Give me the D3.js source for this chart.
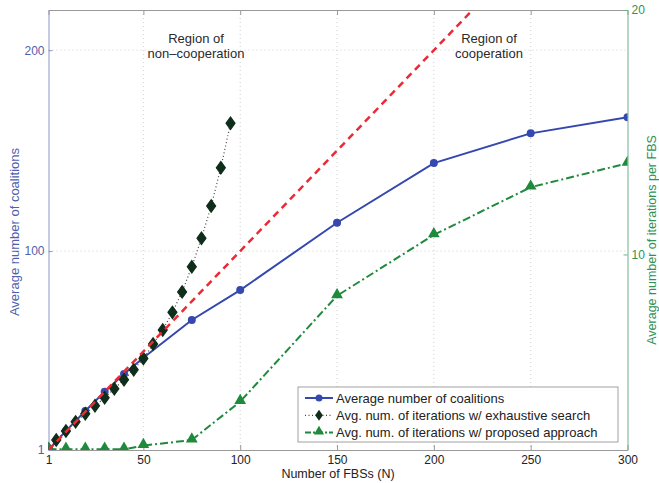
<!DOCTYPE html>
<html>
<head>
<meta charset="utf-8">
<script src="https://cdn.jsdelivr.net/npm/d3@7"></script>
<style>
  body { margin: 0; background: #fff; }
  text { font-family: "Liberation Sans", Arial, Helvetica, sans-serif; }
</style>
</head>
<body>
<svg id="chart" width="659" height="483"></svg>
<script>
// x values (number of FBSs)
var coalN = [1, 10, 20, 30, 40, 50, 75, 100, 150, 200, 250, 300];
// average number of coalitions (left axis)
var coalVal = [1, 10.5, 20.4, 30, 38.8, 46.9, 65.7, 80.6, 114.1, 143.8, 158.6, 166.6];
// exhaustive search iterations (left axis scale)
var exhN = [1, 5, 10, 15, 20, 25, 30, 35, 40, 45, 50, 55, 60, 65, 70, 75, 80, 85, 90, 95];
var exhVal = [1.5, 6, 10.5, 15, 19, 23, 27, 31.5, 36, 41, 46.5, 53.8, 60.7, 69.5, 79.7, 92.2, 106.4, 122.4, 141.5, 163.6];
// proposed approach iterations per FBS (right axis)
var propN = [1, 10, 20, 30, 40, 50, 75, 100, 150, 200, 250, 300];
var propVal = [2.03, 2.03, 2.03, 2.03, 2.03, 2.18, 2.41, 3.98, 8.31, 10.8, 12.75, 13.73];
// non-cooperation reference line (N coalitions for N FBSs)
var refN = [1, 300];
var refVal = [1, 300];

var xTicks = [1, 50, 100, 150, 200, 250, 300];
var yLeftTicks = [1, 100, 200];
var yRightTicks = [10, 20];

var legendLabels = [
  "Average number of coalitions",
  "Avg. num. of iterations w/ exhaustive search",
  "Avg. num. of iterations w/ proposed approach"
];

var svg = d3.select("#chart");
var plot = {left: 48.5, right: 627.5, top: 10, bottom: 450};

var blue = "#3548b0", dark = "#0f2d1b", green = "#1f8a3c", red = "#ec2a35";
var leftCol = "#4f5fae", rightCol = "#2e9357";

var x = d3.scaleLinear().domain([1, 300]).range([plot.left, plot.right]);
var yL = d3.scaleLinear().domain([1, 220]).range([plot.bottom, plot.top]);
var yR = d3.scaleLinear().domain([2, 20]).range([plot.bottom, plot.top]);

svg.append("defs").append("clipPath").attr("id", "clip")
  .append("rect")
  .attr("x", plot.left).attr("y", plot.top)
  .attr("width", plot.right - plot.left).attr("height", plot.bottom - plot.top);

//grid
var grid = svg.append("g").attr("stroke", "#c4c4c4").attr("stroke-width", 0.8).attr("stroke-dasharray", "1,3");
grid.selectAll("line.vx")
  .data(xTicks.slice(1, -1))
  .enter().append("line")
  .attr("x1", function(d) { return x(d); }).attr("x2", function(d) { return x(d); })
  .attr("y1", plot.top).attr("y2", plot.bottom);
grid.selectAll("line.hy")
  .data(yLeftTicks.slice(1))
  .enter().append("line")
  .attr("x1", plot.left).attr("x2", plot.right)
  .attr("y1", function(d) { return yL(d); }).attr("y2", function(d) { return yL(d); });

//axes
var xAxis = svg.append("g")
  .attr("transform", "translate(0," + plot.bottom + ")")
  .call(d3.axisBottom(x).tickValues(xTicks).tickSizeInner(-5).tickSizeOuter(0).tickPadding(5));
var xTop = svg.append("g")
  .attr("transform", "translate(0," + plot.top + ")")
  .call(d3.axisTop(x).tickValues(xTicks).tickSizeInner(-5).tickSizeOuter(0).tickFormat(""));
[xAxis, xTop].forEach(function(g) {
  g.select(".domain").attr("stroke", "#999");
  g.selectAll(".tick line").attr("stroke", "#999");
  g.selectAll("text").attr("fill", "#222").attr("font-size", "12px");
});

var yLeftAxis = svg.append("g")
  .attr("transform", "translate(" + plot.left + ",0)")
  .call(d3.axisLeft(yL).tickValues(yLeftTicks).tickSizeInner(-4).tickSizeOuter(0).tickPadding(4));
yLeftAxis.select(".domain").attr("stroke", "#8a96c8");
yLeftAxis.selectAll(".tick line").attr("stroke", "#8a96c8");
yLeftAxis.selectAll("text").attr("fill", leftCol).attr("font-size", "12px");

var yRightAxis = svg.append("g")
  .attr("transform", "translate(" + plot.right + ",0)")
  .call(d3.axisRight(yR).tickValues(yRightTicks).tickSizeInner(-4).tickSizeOuter(0).tickPadding(4));
yRightAxis.select(".domain").attr("stroke", "#6fb08a");
yRightAxis.selectAll(".tick line").attr("stroke", "#6fb08a");
yRightAxis.selectAll("text").attr("fill", rightCol).attr("font-size", "12px");

//axis titles
svg.append("text")
  .attr("x", (plot.left + plot.right) / 2).attr("y", 477.5)
  .attr("text-anchor", "middle").attr("font-size", "12.5px").attr("fill", "#222")
  .text("Number of FBSs (N)");
svg.append("text")
  .attr("transform", "translate(19,232) rotate(-90)")
  .attr("text-anchor", "middle").attr("font-size", "13px").attr("fill", leftCol)
  .text("Average number of coalitions");
svg.append("text")
  .attr("transform", "translate(656,240) rotate(-90)")
  .attr("text-anchor", "middle").attr("font-size", "12.5px").attr("fill", rightCol)
  .text("Average number of iterations per FBS");

//region annotations
var notes = svg.append("g").attr("font-size", "13px").attr("fill", "#2a2a2a").attr("text-anchor", "middle");
notes.append("text").attr("x", 196).attr("y", 43).text("Region of");
notes.append("text").attr("x", 196).attr("y", 58).text("non\u2013cooperation");
notes.append("text").attr("x", 489).attr("y", 43).text("Region of");
notes.append("text").attr("x", 489).attr("y", 58).text("cooperation");

//series
var area = svg.append("g").attr("clip-path", "url(#clip)");

var lineL = d3.line().x(function(d) { return x(d[0]); }).y(function(d) { return yL(d[1]); });
var lineR = d3.line().x(function(d) { return x(d[0]); }).y(function(d) { return yR(d[1]); });

var coalData = d3.zip(coalN, coalVal);
var exhData = d3.zip(exhN, exhVal);
var propData = d3.zip(propN, propVal);
var refData = d3.zip(refN, refVal);

area.append("path").datum(coalData)
  .attr("d", lineL).attr("fill", "none").attr("stroke", blue).attr("stroke-width", 2);
area.selectAll("circle.coal").data(coalData).enter().append("circle")
  .attr("cx", function(d) { return x(d[0]); }).attr("cy", function(d) { return yL(d[1]); })
  .attr("r", 4).attr("fill", blue);

area.append("path").datum(exhData)
  .attr("d", lineL).attr("fill", "none").attr("stroke", "#444").attr("stroke-width", 1.2)
  .attr("stroke-dasharray", "1,2.5");
area.selectAll("path.exh").data(exhData).enter().append("path")
  .attr("transform", function(d) { return "translate(" + x(d[0]) + "," + yL(d[1]) + ") scale(1.25,1)"; })
  .attr("d", d3.symbol().type(d3.symbolDiamond).size(45))
  .attr("fill", dark).attr("stroke", dark).attr("stroke-width", 1);

area.append("path").datum(propData)
  .attr("d", lineR).attr("fill", "none").attr("stroke", green).attr("stroke-width", 2)
  .attr("stroke-dasharray", "8,3,2,3");
area.selectAll("path.prop").data(propData).enter().append("path")
  .attr("transform", function(d) { return "translate(" + x(d[0]) + "," + (yR(d[1]) - 1) + ")"; })
  .attr("d", d3.symbol().type(d3.symbolTriangle).size(60))
  .attr("fill", green);

area.append("path").datum(refData)
  .attr("d", lineL).attr("fill", "none").attr("stroke", red).attr("stroke-width", 2.5)
  .attr("stroke-dasharray", "7,5");

//legend
var leg = svg.append("g").attr("transform", "translate(298,387)");
leg.append("rect").attr("width", 320).attr("height", 55)
  .attr("fill", "#fff").attr("stroke", "#8a8a8a").attr("stroke-width", 0.8);
var rows = leg.selectAll("g.row").data(legendLabels).enter().append("g")
  .attr("transform", function(d, i) { return "translate(0," + (11 + i * 17.3) + ")"; });
rows.append("text").attr("x", 38).attr("y", 4.5).attr("font-size", "13px").attr("fill", "#222")
  .text(function(d) { return d; });
var row0 = d3.select(rows.nodes()[0]), row1 = d3.select(rows.nodes()[1]), row2 = d3.select(rows.nodes()[2]);
row0.append("line").attr("x1", 7).attr("x2", 35).attr("stroke", blue).attr("stroke-width", 2);
row0.append("circle").attr("cx", 21).attr("r", 3.5).attr("fill", blue);
row1.append("line").attr("x1", 7).attr("x2", 35).attr("stroke", "#444").attr("stroke-width", 1.2).attr("stroke-dasharray", "1,2.5");
row1.append("path").attr("transform", "translate(21,0) scale(1.2,1)").attr("d", d3.symbol().type(d3.symbolDiamond).size(35)).attr("fill", dark);
row2.append("line").attr("x1", 7).attr("x2", 35).attr("stroke", green).attr("stroke-width", 2).attr("stroke-dasharray", "6,2,2,2");
row2.append("path").attr("transform", "translate(21,-1)").attr("d", d3.symbol().type(d3.symbolTriangle).size(45)).attr("fill", green);
</script>
</body>
</html>
